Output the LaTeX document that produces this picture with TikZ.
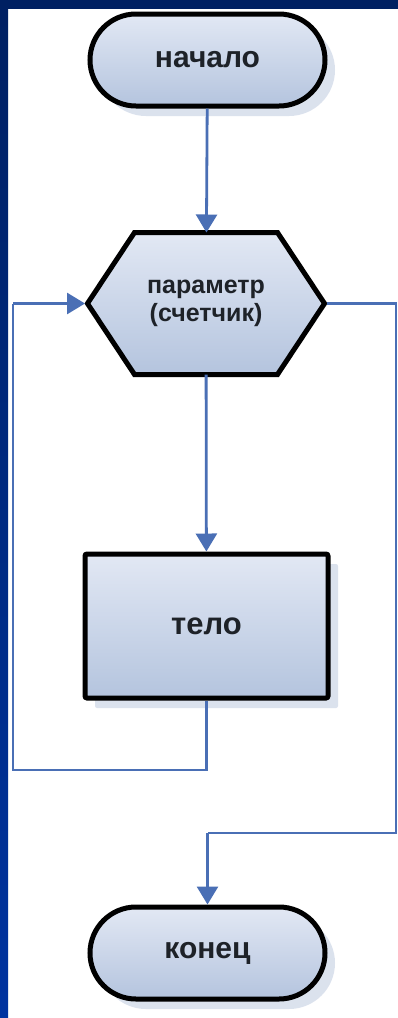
\documentclass[tikz,border=0pt]{standalone}
\usepackage{fontspec}
\setmainfont{Liberation Sans}
\usetikzlibrary{arrows.meta,shapes.misc,shapes.geometric,shadows,positioning}
\definecolor{framenavy}{HTML}{002062}
\definecolor{frameblue}{HTML}{0033A0}
\definecolor{linkblue}{HTML}{4A6FB5}
\definecolor{filltop}{HTML}{E2E8F4}
\definecolor{fillbot}{HTML}{B4C4DE}
\definecolor{shadowc}{HTML}{D8DFEC}
\definecolor{txt}{HTML}{1E2228}
\tikzset{
  shape base/.style={draw=black, line width=5pt, top color=filltop, bottom color=fillbot,
     font=\bfseries, text=txt, inner sep=0pt,
     drop shadow={shadow xshift=10pt, shadow yshift=-10pt, fill=shadowc, opacity=0.9}},
  termbox/.style={shape base, rounded rectangle, minimum width=235pt, minimum height=92pt, font=\fontsize{30}{32}\bfseries\selectfont},
  hexbox/.style={rectangle, inner sep=0pt, outer sep=0pt, minimum width=237pt, minimum height=142pt,
     font=\fontsize{25}{28}\bfseries\selectfont, text=txt, align=center},
  hexline/.style={draw=black, line width=5pt, line join=miter, top color=filltop, bottom color=fillbot},
  hexshadow/.style={fill=shadowc, opacity=0.9},
  bodybox/.style={shape base, rectangle, rounded corners=2pt, minimum width=243pt, minimum height=144pt, font=\fontsize{31}{33}\bfseries\selectfont},
  link/.style={draw=linkblue, line width=2.8pt},
  arr/.style={link, -{Triangle[width=21pt,length=18pt]}},
}
\begin{document}
\begin{tikzpicture}[x=1pt,y=-1pt]
\useasboundingbox (0,0) rectangle (398,1018);
\fill[white] (0,0) rectangle (398,1018);
\shade[top color=framenavy, bottom color=frameblue] (0,0) rectangle (8,1018);
\fill[framenavy] (0,0) rectangle (398,9);
\node[termbox] (start) at (207.5,60) {начало};
\node[bodybox] (body) at (206.5,626) {тело};
\node[termbox] (end) at (207.5,953) {конец};
% hexagon
\node[hexbox] (loop) at (206,303.5) {};
\fill[hexshadow, shift={(10,10)}] (loop.west) -- ([xshift=47pt]loop.north west) -- ([xshift=-47pt]loop.north east)
   -- (loop.east) -- ([xshift=-47pt]loop.south east) -- ([xshift=47pt]loop.south west) -- cycle;
\path[hexline] (loop.west) -- ([xshift=47pt]loop.north west) -- ([xshift=-47pt]loop.north east)
   -- (loop.east) -- ([xshift=-47pt]loop.south east) -- ([xshift=47pt]loop.south west) -- cycle;
\node[hexbox] (looptext) at (loop.center) {параметр\\(счетчик)};
\coordinate (lt) at (13,303.5);
\coordinate (lb) at (13,770);
\coordinate (rt) at (396,303.5);
\coordinate (rb) at (396,833);
\coordinate (rm) at (207.5,833);
\draw[arr] (start) -- (loop);
\draw[arr] (loop) -- (body);
\draw[link] (body.south) -- (body.south |- lb) -- (lb) -- (lt);
\draw[arr] (lt) -- ([xshift=-2.5pt]loop.west);
\draw[link] ([xshift=2.5pt]loop.east) -- (rt) -- (rb) -- (rm);
\draw[arr] (rm) -- (end.north);
\end{tikzpicture}
\end{document}
